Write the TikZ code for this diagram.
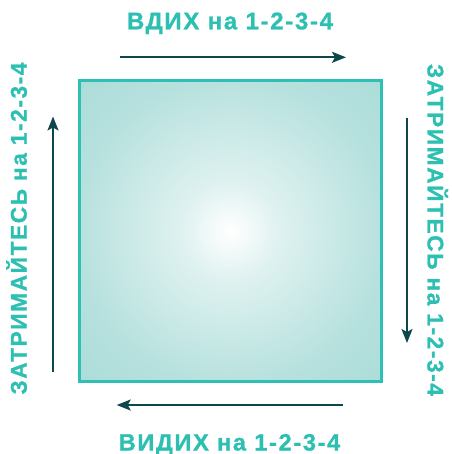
\documentclass[tikz,border=0pt]{standalone}
\usepackage{fontspec}
\setmainfont{Liberation Sans}
\usetikzlibrary{arrows.meta}
\definecolor{edgec}{HTML}{A3D9D5}
\definecolor{bordc}{HTML}{2EC0B4}
\definecolor{txtc}{HTML}{2CBFB2}
\definecolor{arrc}{HTML}{0E474B}
\pgfdeclareradialshading{sqshade}{\pgfpoint{0bp}{0bp}}{color(0bp)=(white); color(8bp)=(edgec!35!white); color(26bp)=(edgec!80!white); color(45bp)=(edgec); color(75bp)=(edgec)}
\tikzset{
  lbl/.style={text=txtc, font=\fontsize{#1}{26}\selectfont\bfseries\addfontfeature{LetterSpace=7,FakeBold=1}, inner sep=0pt, anchor=base},
  lbl/.default=23,
  arr/.style={draw=arrc, line width=2pt, -{Stealth[length=14pt,width=11pt,inset=3pt]}}
}
\begin{document}
\begin{tikzpicture}[x=1pt,y=-1pt]
\useasboundingbox (0,0) rectangle (451,454);
\path[shading=sqshade, draw=bordc, line width=3pt] (79.5,81) rectangle (381,381.5);
\node[lbl=24] (top) at (230,29.3) {ВДИХ на 1-2-3-4};
\node[lbl=23.6] (bot) at (229.5,450.5) {ВИДИХ на 1-2-3-4};
\node[lbl=22.7, rotate=90] (left) at (26.7,228.5) {ЗАТРИМАЙТЕСЬ на 1-2-3-4};
\node[lbl=22.7, rotate=-90] (right) at (427.5,230) {ЗАТРИМАЙТЕСЬ на 1-2-3-4};
\coordinate (t1) at (119.5,57.3);
\coordinate (t2) at (346,57.3);
\coordinate (b1) at (342.7,405);
\coordinate (b2) at (116.7,405);
\coordinate (l1) at (53,372);
\coordinate (l2) at (53,116.5);
\coordinate (r1) at (407,118);
\coordinate (r2) at (407,343);
\draw[arr] (t1) -- (t2);
\draw[arr] (b1) -- (b2);
\draw[arr] (l1) -- (l2);
\draw[arr] (r1) -- (r2);
\end{tikzpicture}
\end{document}
